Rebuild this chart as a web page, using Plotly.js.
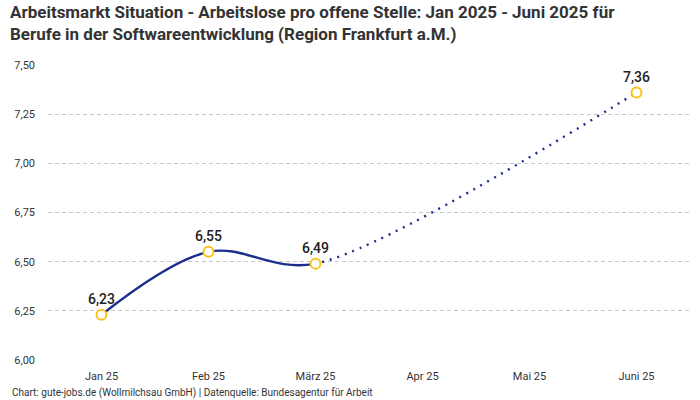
<!DOCTYPE html>
<html>
<head>
<meta charset="utf-8">
<script src="https://cdn.plot.ly/plotly-3.0.1.min.js"></script>
<style>html,body{margin:0;padding:0;background:#fff}#chart{width:700px;height:400px}</style>
</head>
<body>
<div id="chart"></div>
<script>
const months = ['Jan 25', 'Feb 25', 'März 25', 'Apr 25', 'Mai 25', 'Juni 25'];
const dataMonths = ['Jan 25', 'Feb 25', 'März 25', 'Juni 25'];
const values = [6.23, 6.55, 6.49, 7.36];
const yTicks = [6.0, 6.25, 6.5, 6.75, 7.0, 7.25, 7.5];

const FONT = 'Roboto, sans-serif';
const BLUE = '#1c2f8e';
const YELLOW = '#fcc21b';
const splitFrac = 2.5 / 6;

const traces = [
  { x: dataMonths, y: values, xaxis: 'x', yaxis: 'y', type: 'scatter', mode: 'markers',
    marker: { size: 9, color: 'rgba(0,0,0,0)', line: { width: 0 } }, hoverinfo: 'skip' },
  { x: dataMonths, y: values, xaxis: 'x2', yaxis: 'y2', type: 'scatter', mode: 'lines',
    line: { color: BLUE, width: 2.4, shape: 'spline' }, hoverinfo: 'skip' },
  { x: dataMonths, y: values, xaxis: 'x3', yaxis: 'y3', type: 'scatter', mode: 'lines',
    line: { color: BLUE, width: 2.4, shape: 'spline', smoothing: 0.8, dash: '2px,6px' }, hoverinfo: 'skip' },
  { x: dataMonths, y: values, xaxis: 'x4', yaxis: 'y4', type: 'scatter', mode: 'markers+text',
    marker: { size: 10, color: '#ffffff', line: { color: YELLOW, width: 2 } },
    texttemplate: '%{y:.2f}', textposition: 'top center',
    textfont: { family: FONT, size: 14, color: '#222', weight: 500 }, cliponaxis: false }
];

const catAxis = (extra) => Object.assign({
  type: 'category', categoryorder: 'array', categoryarray: months,
  showgrid: false, zeroline: false, fixedrange: true
}, extra);
const valAxis = (extra) => Object.assign({
  range: [6.0, 7.5], zeroline: false, fixedrange: true
}, extra);

const layout = {
  width: 700, height: 400,
  margin: { l: 48, r: 10, t: 65, b: 40 },
  paper_bgcolor: '#fff', plot_bgcolor: 'rgba(0,0,0,0)',
  separators: ',.',
  showlegend: false,
  font: { family: FONT, color: '#333', size: 11 },
  title: {
    text: 'Arbeitsmarkt Situation - Arbeitslose pro offene Stelle: Jan 2025 - Juni 2025 für<br>Berufe in der Softwareentwicklung (Region Frankfurt a.M.)',
    x: 10 / 700, xanchor: 'left', xref: 'container', y: 0.955, yanchor: 'top', yref: 'container',
    font: { family: FONT, size: 17, color: '#333', weight: 'bold' }
  },
  xaxis: catAxis({ domain: [0, 1], range: [-0.5, 5.5], anchor: 'y', ticks: '', showline: false,
    ticklabelstandoff: 8, tickfont: { size: 11, color: '#333' } }),
  yaxis: valAxis({ domain: [0, 1], anchor: 'x', tickvals: yTicks, tickformat: '.2f',
    showgrid: true, gridcolor: '#c8c8c8', griddash: '4px,3px', gridwidth: 1,
    showline: false, ticks: '', ticklabelstandoff: 12, tickfont: { size: 11, color: '#333' } }),
  xaxis2: catAxis({ domain: [0, splitFrac], range: [-0.5, 2], anchor: 'y2', visible: false }),
  yaxis2: valAxis({ domain: [0, 1], anchor: 'x2', visible: false }),
  xaxis3: catAxis({ domain: [splitFrac, 1], range: [2, 5.5], anchor: 'y3', visible: false }),
  yaxis3: valAxis({ domain: [0, 1], anchor: 'x3', visible: false }),
  xaxis4: catAxis({ domain: [0, 1], range: [-0.5, 5.5], anchor: 'y4', visible: false }),
  yaxis4: valAxis({ domain: [0, 1], anchor: 'x4', visible: false }),
  annotations: [{
    text: 'Chart: gute-jobs.de (Wollmilchsau GmbH) | Datenquelle: Bundesagentur für Arbeit',
    xref: 'paper', yref: 'paper', x: (10 - 48) / 642, y: -(393 - 360) / 295,
    xanchor: 'left', yanchor: 'middle', showarrow: false,
    font: { family: FONT, size: 10, color: '#333' }
  }]
};

Plotly.newPlot('chart', traces, layout, { staticPlot: true, displayModeBar: false });
</script>
</body>
</html>
